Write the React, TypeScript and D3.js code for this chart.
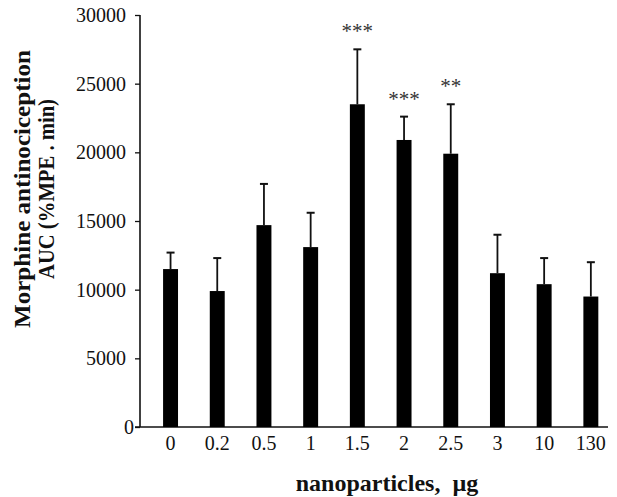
import React, { useEffect, useRef } from "react";
import * as d3 from "d3";

// nanoparticle dose groups (µg)
const doses = ["0", "0.2", "0.5", "1", "1.5", "2", "2.5", "3", "10", "130"];
// mean AUC (%MPE . min)
const means = [11500, 9900, 14700, 13100, 23500, 20900, 19900, 11200, 10400, 9500];
// upper end of error bar
const errTops = [12700, 12300, 17700, 15600, 27500, 22600, 23500, 14000, 12300, 12000];
// significance markers
const stars = ["", "", "", "", "***", "***", "**", "", "", ""];
const yTicks = [0, 5000, 10000, 15000, 20000, 25000, 30000];

export default function App() {
  const ref = useRef<SVGSVGElement>(null);

  useEffect(() => {
    const width = 617;
    const height = 497;
    const svg = d3.select(ref.current).attr("width", width).attr("height", height);
    svg.selectAll("*").remove();

    const font = "'Liberation Serif', 'Times New Roman', serif";
    const data = doses.map((d, i) => ({ dose: d, mean: means[i], top: errTops[i], star: stars[i] }));

    const x = d3.scaleBand().domain(doses).range([147.2, 614.2]).paddingInner(0.68).paddingOuter(0.34);
    const y = d3.scaleLinear().domain([0, 30000]).range([427, 15]);

    // y axis
    const yAxis = svg.append("g").attr("transform", "translate(140,0)")
      .call(d3.axisLeft(y).tickValues(yTicks).tickSize(5).tickPadding(9).tickFormat(d3.format("d")));
    yAxis.select(".domain").attr("stroke", "#111").attr("stroke-width", 1.6).attr("d", "M0,15V427");
    yAxis.selectAll(".tick line").attr("stroke", "#111").attr("stroke-width", 1.3);
    yAxis.selectAll(".tick text").style("font-family", font).style("font-size", "20px").attr("fill", "#111");
    // the zero label sits right against the axis in the original
    yAxis.selectAll(".tick text").filter(d => d === 0).attr("x", -6);

    // x axis
    const xAxis = svg.append("g").attr("transform", "translate(0,427)")
      .call(d3.axisBottom(x).tickSize(0).tickPadding(9));
    xAxis.select(".domain").attr("stroke", "#111").attr("stroke-width", 1.6).attr("d", "M135,0H608");
    xAxis.selectAll(".tick text").style("font-family", font).style("font-size", "20px").attr("fill", "#111");

    // error bars (upper only)
    const g = svg.append("g");
    g.selectAll(".err").data(data).join("line")
      .attr("x1", d => x(d.dose)! + x.bandwidth() / 2)
      .attr("x2", d => x(d.dose)! + x.bandwidth() / 2)
      .attr("y1", d => y(d.mean))
      .attr("y2", d => y(d.top))
      .attr("stroke", "#111").attr("stroke-width", 1.8);
    g.selectAll(".cap").data(data).join("line")
      .attr("x1", d => x(d.dose)! + x.bandwidth() / 2 - 4)
      .attr("x2", d => x(d.dose)! + x.bandwidth() / 2 + 4)
      .attr("y1", d => y(d.top))
      .attr("y2", d => y(d.top))
      .attr("stroke", "#111").attr("stroke-width", 2);

    g.selectAll("rect").data(data).join("rect")
      .attr("x", d => x(d.dose)!)
      .attr("y", d => y(d.mean))
      .attr("width", x.bandwidth())
      .attr("height", d => y(0) - y(d.mean))
      .attr("fill", "#000");

    g.selectAll(".star").data(data.filter(d => d.star)).join("text")
      .attr("x", d => x(d.dose)! + x.bandwidth() / 2)
      .attr("y", d => y(d.top) - 11)
      .attr("text-anchor", "middle")
      .style("font-family", font)
      .style("font-size", "21px")
      .attr("fill", "#333")
      .text(d => d.star);

    // axis titles
    const yl = svg.append("text")
      .attr("transform", "translate(0,189) rotate(-90)")
      .attr("text-anchor", "middle")
      .style("font-family", font).style("font-weight", "bold").style("font-size", "24px")
      .attr("fill", "#111");
    yl.append("tspan").attr("x", 0).attr("y", 30)
      .attr("textLength", 278).attr("lengthAdjust", "spacingAndGlyphs")
      .text("Morphine antinociception");
    yl.append("tspan").attr("x", 0).attr("y", 54)
      .attr("textLength", 180).attr("lengthAdjust", "spacingAndGlyphs")
      .text("AUC (%MPE . min)");

    svg.append("text")
      .attr("x", 387).attr("y", 491)
      .attr("text-anchor", "middle")
      .style("font-family", font).style("font-weight", "bold").style("font-size", "24px")
      .style("white-space", "pre")
      .attr("fill", "#111")
      .text("nanoparticles,  µg");
  }, []);

  return <svg ref={ref} style={{ position: "absolute", left: 0, top: 0, background: "#fff" }} />;
}
